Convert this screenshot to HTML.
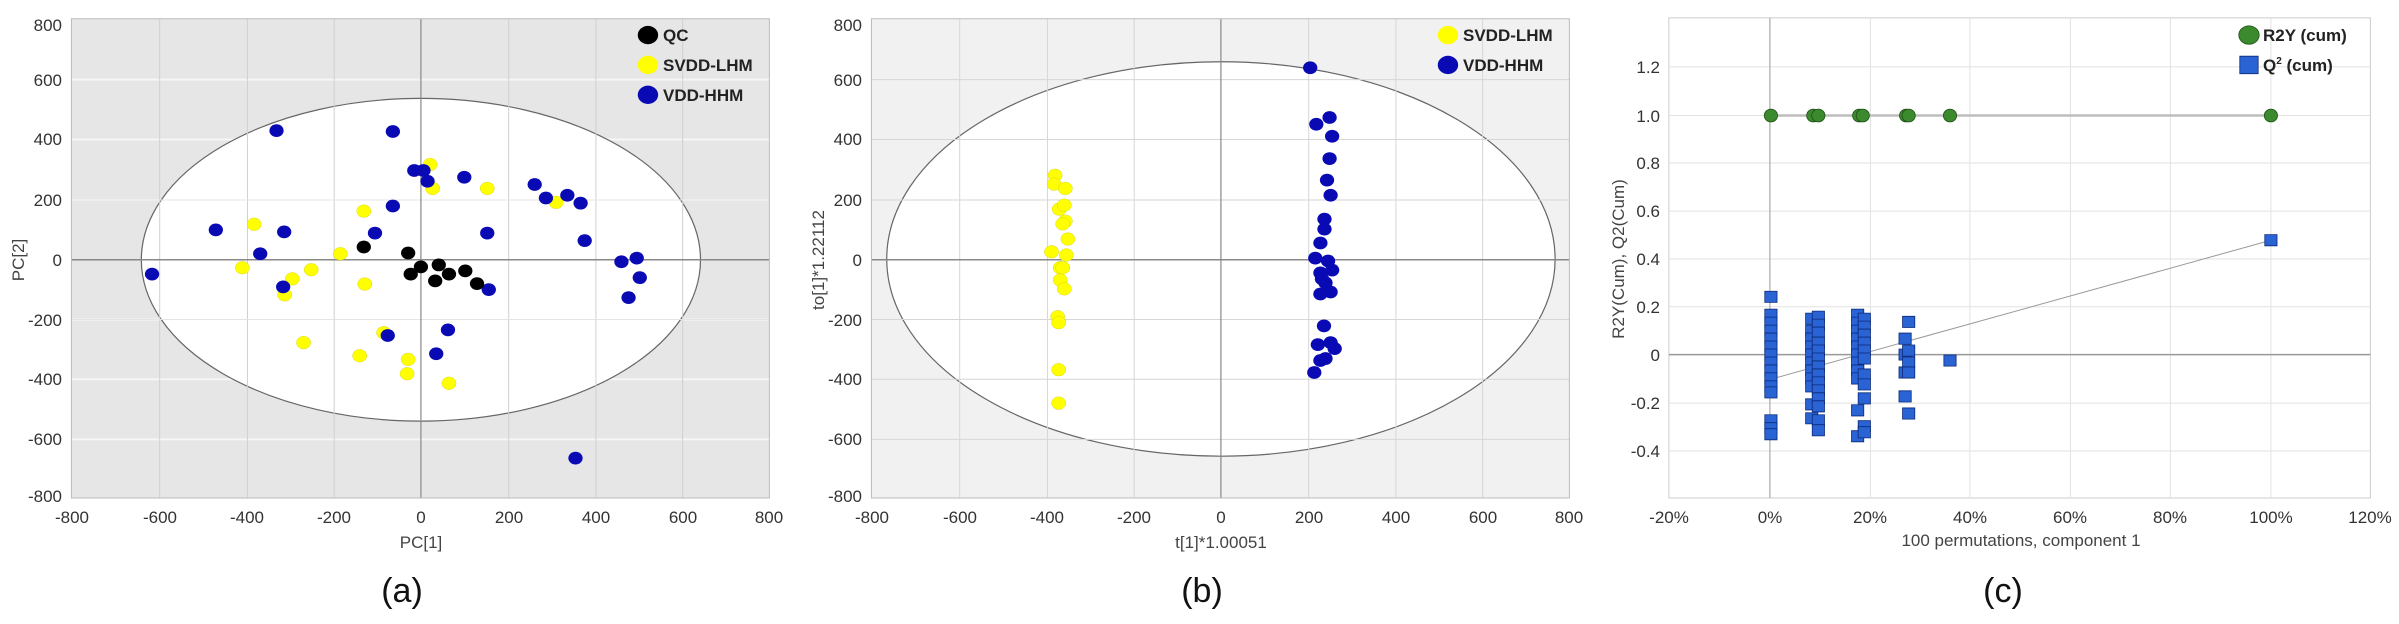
<!DOCTYPE html>
<html><head><meta charset="utf-8"><style>
html,body{margin:0;padding:0;background:#fff;}
svg{display:block;font-family:"Liberation Sans",sans-serif;}
.t{font-size:17px;fill:#333;}
.lg{font-size:17px;font-weight:bold;fill:#222;}
.cap{font-size:34px;fill:#111;}
.ax{font-size:17px;fill:#444;}
</style></head><body>
<svg width="2399" height="624" viewBox="0 0 2399 624" xmlns="http://www.w3.org/2000/svg">
<!-- ================= PANEL A ================= -->
<g transform="translate(0,0) scale(0.5102,0.3984)">
  <rect x="140" y="47" width="1368" height="1203" fill="#e6e6e6"/>
  <g stroke="#f6f6f6" stroke-width="2" vector-effect="non-scaling-stroke">
    <line x1="140" y1="200" x2="1508" y2="200" vector-effect="non-scaling-stroke"/>
    <line x1="140" y1="350" x2="1508" y2="350" vector-effect="non-scaling-stroke"/>
    <line x1="140" y1="502" x2="1508" y2="502" vector-effect="non-scaling-stroke"/>
    <line x1="140" y1="802" x2="1508" y2="802" vector-effect="non-scaling-stroke"/>
    <line x1="140" y1="952" x2="1508" y2="952" vector-effect="non-scaling-stroke"/>
    <line x1="140" y1="1103" x2="1508" y2="1103" vector-effect="non-scaling-stroke"/>
  </g>
  <ellipse cx="825" cy="652" rx="548" ry="405" fill="#fff" stroke="#666" stroke-width="1.2" vector-effect="non-scaling-stroke"/>
  <g stroke="#d0d0d0" stroke-width="1" vector-effect="non-scaling-stroke">
    <line x1="313" y1="47" x2="313" y2="1250" vector-effect="non-scaling-stroke"/>
    <line x1="485" y1="47" x2="485" y2="1250" vector-effect="non-scaling-stroke"/>
    <line x1="655" y1="47" x2="655" y2="1250" vector-effect="non-scaling-stroke"/>
    <line x1="997" y1="47" x2="997" y2="1250" vector-effect="non-scaling-stroke"/>
    <line x1="1168" y1="47" x2="1168" y2="1250" vector-effect="non-scaling-stroke"/>
    <line x1="1338" y1="47" x2="1338" y2="1250" vector-effect="non-scaling-stroke"/>
    <line x1="140" y1="502" x2="1508" y2="502" stroke="#e4e4e4" vector-effect="non-scaling-stroke"/>
    <line x1="140" y1="802" x2="1508" y2="802" stroke="#e4e4e4" vector-effect="non-scaling-stroke"/>
  </g>
  <line x1="825" y1="47" x2="825" y2="1250" stroke="#888" stroke-width="1.2" vector-effect="non-scaling-stroke"/>
  <line x1="140" y1="652" x2="1508" y2="652" stroke="#888" stroke-width="1.5" vector-effect="non-scaling-stroke"/>
  <rect x="140" y="47" width="1368" height="1203" fill="none" stroke="#bbb" stroke-width="1" vector-effect="non-scaling-stroke"/>
  <g fill="#ffff00" stroke="#b8b800" stroke-width="0.6" vector-effect="non-scaling-stroke">
    <ellipse cx="843" cy="413" rx="14" ry="16"/><ellipse cx="848" cy="473" rx="14" ry="16"/><ellipse cx="955" cy="473" rx="14" ry="16"/><ellipse cx="1090" cy="508" rx="14" ry="16"/><ellipse cx="713" cy="530" rx="14" ry="16"/><ellipse cx="498" cy="563" rx="14" ry="16"/><ellipse cx="667" cy="637" rx="14" ry="16"/><ellipse cx="475" cy="672" rx="14" ry="16"/><ellipse cx="573" cy="700" rx="14" ry="16"/><ellipse cx="610" cy="677" rx="14" ry="16"/><ellipse cx="715" cy="713" rx="14" ry="16"/><ellipse cx="558" cy="740" rx="14" ry="16"/><ellipse cx="752" cy="835" rx="14" ry="16"/><ellipse cx="595" cy="860" rx="14" ry="16"/><ellipse cx="705" cy="893" rx="14" ry="16"/><ellipse cx="800" cy="902" rx="14" ry="16"/><ellipse cx="798" cy="938" rx="14" ry="16"/><ellipse cx="880" cy="962" rx="14" ry="16"/>
  </g>
  <g fill="#0a0ab4">
    <ellipse cx="542" cy="328" rx="14" ry="16"/><ellipse cx="770" cy="330" rx="14" ry="16"/><ellipse cx="812" cy="428" rx="14" ry="16"/><ellipse cx="830" cy="428" rx="14" ry="16"/><ellipse cx="838" cy="455" rx="14" ry="16"/><ellipse cx="910" cy="445" rx="14" ry="16"/><ellipse cx="770" cy="517" rx="14" ry="16"/><ellipse cx="735" cy="585" rx="14" ry="16"/><ellipse cx="423" cy="577" rx="14" ry="16"/><ellipse cx="557" cy="582" rx="14" ry="16"/><ellipse cx="510" cy="637" rx="14" ry="16"/><ellipse cx="298" cy="688" rx="14" ry="16"/><ellipse cx="555" cy="720" rx="14" ry="16"/><ellipse cx="955" cy="585" rx="14" ry="16"/><ellipse cx="958" cy="727" rx="14" ry="16"/><ellipse cx="1048" cy="463" rx="14" ry="16"/><ellipse cx="1070" cy="497" rx="14" ry="16"/><ellipse cx="1112" cy="490" rx="14" ry="16"/><ellipse cx="1138" cy="510" rx="14" ry="16"/><ellipse cx="1146" cy="604" rx="14" ry="16"/><ellipse cx="1218" cy="657" rx="14" ry="16"/><ellipse cx="1248" cy="648" rx="14" ry="16"/><ellipse cx="1254" cy="697" rx="14" ry="16"/><ellipse cx="1232" cy="747" rx="14" ry="16"/><ellipse cx="760" cy="842" rx="14" ry="16"/><ellipse cx="878" cy="828" rx="14" ry="16"/><ellipse cx="855" cy="888" rx="14" ry="16"/><ellipse cx="1128" cy="1150" rx="14" ry="16"/>
  </g>
  <g fill="#000">
    <ellipse cx="713" cy="620" rx="14" ry="16"/><ellipse cx="800" cy="635" rx="14" ry="16"/><ellipse cx="805" cy="688" rx="14" ry="16"/><ellipse cx="825" cy="670" rx="14" ry="16"/><ellipse cx="853" cy="705" rx="14" ry="16"/><ellipse cx="860" cy="665" rx="14" ry="16"/><ellipse cx="880" cy="688" rx="14" ry="16"/><ellipse cx="912" cy="680" rx="14" ry="16"/><ellipse cx="935" cy="712" rx="14" ry="16"/>
  </g>
  <ellipse cx="1270" cy="88" rx="20" ry="23" fill="#000"/>
  <ellipse cx="1270" cy="163" rx="20" ry="23" fill="#ffff00"/>
  <ellipse cx="1270" cy="238" rx="20" ry="23" fill="#0a0ab4"/>
</g>
<g class="t" text-anchor="end">
  <text x="62" y="31">800</text><text x="62" y="86">600</text><text x="62" y="145">400</text><text x="62" y="206">200</text><text x="62" y="266">0</text><text x="62" y="326">-200</text><text x="62" y="385">-400</text><text x="62" y="445">-600</text><text x="62" y="502">-800</text>
</g>
<g class="t" text-anchor="middle">
  <text x="72" y="523">-800</text><text x="160" y="523">-600</text><text x="247" y="523">-400</text><text x="334" y="523">-200</text><text x="421" y="523">0</text><text x="509" y="523">200</text><text x="596" y="523">400</text><text x="683" y="523">600</text><text x="769" y="523">800</text>
</g>
<text class="ax" x="421" y="548" text-anchor="middle">PC[1]</text>
<text class="ax" transform="translate(24,260) rotate(-90)" text-anchor="middle">PC[2]</text>
<text class="lg" x="663" y="41">QC</text>
<text class="lg" x="663" y="71">SVDD-LHM</text>
<text class="lg" x="663" y="101">VDD-HHM</text>
<text class="cap" x="402" y="602" text-anchor="middle">(a)</text>

<!-- ================= PANEL B ================= -->
<g transform="translate(800,0) scale(0.5102,0.3984)">
  <rect x="140" y="47" width="1368" height="1203" fill="#f1f1f1"/>
  <ellipse cx="825" cy="650" rx="655" ry="495" fill="#fff" stroke="#666" stroke-width="1.2" vector-effect="non-scaling-stroke"/>
  <g stroke="#d6d6d6" stroke-width="1">
    <line x1="313" y1="47" x2="313" y2="1250" vector-effect="non-scaling-stroke"/>
    <line x1="485" y1="47" x2="485" y2="1250" vector-effect="non-scaling-stroke"/>
    <line x1="655" y1="47" x2="655" y2="1250" vector-effect="non-scaling-stroke"/>
    <line x1="997" y1="47" x2="997" y2="1250" vector-effect="non-scaling-stroke"/>
    <line x1="1168" y1="47" x2="1168" y2="1250" vector-effect="non-scaling-stroke"/>
    <line x1="1338" y1="47" x2="1338" y2="1250" vector-effect="non-scaling-stroke"/>
    <line x1="140" y1="200" x2="1508" y2="200" vector-effect="non-scaling-stroke"/>
    <line x1="140" y1="350" x2="1508" y2="350" vector-effect="non-scaling-stroke"/>
    <line x1="140" y1="502" x2="1508" y2="502" vector-effect="non-scaling-stroke"/>
    <line x1="140" y1="802" x2="1508" y2="802" vector-effect="non-scaling-stroke"/>
    <line x1="140" y1="952" x2="1508" y2="952" vector-effect="non-scaling-stroke"/>
    <line x1="140" y1="1103" x2="1508" y2="1103" vector-effect="non-scaling-stroke"/>
  </g>
  <line x1="825" y1="47" x2="825" y2="1250" stroke="#888" stroke-width="1.2" vector-effect="non-scaling-stroke"/>
  <line x1="140" y1="652" x2="1508" y2="652" stroke="#888" stroke-width="1.5" vector-effect="non-scaling-stroke"/>
  <rect x="140" y="47" width="1368" height="1203" fill="none" stroke="#bbb" stroke-width="1" vector-effect="non-scaling-stroke"/>
  <g fill="#ffff00" stroke="#b8b800" stroke-width="0.6" vector-effect="non-scaling-stroke">
    <ellipse cx="500" cy="440" rx="14" ry="16"/><ellipse cx="498" cy="462" rx="14" ry="16"/><ellipse cx="520" cy="473" rx="14" ry="16"/><ellipse cx="508" cy="525" rx="14" ry="16"/><ellipse cx="518" cy="515" rx="14" ry="16"/><ellipse cx="520" cy="555" rx="14" ry="16"/><ellipse cx="515" cy="562" rx="14" ry="16"/><ellipse cx="525" cy="600" rx="14" ry="16"/><ellipse cx="493" cy="632" rx="14" ry="16"/><ellipse cx="522" cy="640" rx="14" ry="16"/><ellipse cx="510" cy="672" rx="14" ry="16"/><ellipse cx="515" cy="672" rx="14" ry="16"/><ellipse cx="510" cy="703" rx="14" ry="16"/><ellipse cx="518" cy="725" rx="14" ry="16"/><ellipse cx="505" cy="795" rx="14" ry="16"/><ellipse cx="507" cy="810" rx="14" ry="16"/><ellipse cx="507" cy="928" rx="14" ry="16"/><ellipse cx="507" cy="1012" rx="14" ry="16"/>
  </g>
  <g fill="#0a0ab4">
    <ellipse cx="1000" cy="170" rx="14" ry="16"/><ellipse cx="1012" cy="312" rx="14" ry="16"/><ellipse cx="1038" cy="295" rx="14" ry="16"/><ellipse cx="1043" cy="342" rx="14" ry="16"/><ellipse cx="1038" cy="398" rx="14" ry="16"/><ellipse cx="1033" cy="452" rx="14" ry="16"/><ellipse cx="1040" cy="490" rx="14" ry="16"/><ellipse cx="1028" cy="550" rx="14" ry="16"/><ellipse cx="1028" cy="575" rx="14" ry="16"/><ellipse cx="1020" cy="610" rx="14" ry="16"/><ellipse cx="1010" cy="648" rx="14" ry="16"/><ellipse cx="1035" cy="655" rx="14" ry="16"/><ellipse cx="1020" cy="685" rx="14" ry="16"/><ellipse cx="1043" cy="678" rx="14" ry="16"/><ellipse cx="1030" cy="710" rx="14" ry="16"/><ellipse cx="1020" cy="738" rx="14" ry="16"/><ellipse cx="1040" cy="733" rx="14" ry="16"/><ellipse cx="1027" cy="818" rx="14" ry="16"/><ellipse cx="1015" cy="865" rx="14" ry="16"/><ellipse cx="1040" cy="860" rx="14" ry="16"/><ellipse cx="1048" cy="875" rx="14" ry="16"/><ellipse cx="1020" cy="905" rx="14" ry="16"/><ellipse cx="1030" cy="900" rx="14" ry="16"/><ellipse cx="1008" cy="935" rx="14" ry="16"/><ellipse cx="1023" cy="700" rx="14" ry="16"/>
  </g>
  <ellipse cx="1270" cy="88" rx="20" ry="23" fill="#ffff00"/>
  <ellipse cx="1270" cy="163" rx="20" ry="23" fill="#0a0ab4"/>
</g>
<g class="t" text-anchor="end">
  <text x="862" y="31">800</text><text x="862" y="86">600</text><text x="862" y="145">400</text><text x="862" y="206">200</text><text x="862" y="266">0</text><text x="862" y="326">-200</text><text x="862" y="385">-400</text><text x="862" y="445">-600</text><text x="862" y="502">-800</text>
</g>
<g class="t" text-anchor="middle">
  <text x="872" y="523">-800</text><text x="960" y="523">-600</text><text x="1047" y="523">-400</text><text x="1134" y="523">-200</text><text x="1221" y="523">0</text><text x="1309" y="523">200</text><text x="1396" y="523">400</text><text x="1483" y="523">600</text><text x="1569" y="523">800</text>
</g>
<text class="ax" x="1221" y="548" text-anchor="middle">t[1]*1.00051</text>
<text class="ax" transform="translate(824,260) rotate(-90)" text-anchor="middle">to[1]*1.22112</text>
<text class="lg" x="1463" y="41">SVDD-LHM</text>
<text class="lg" x="1463" y="71">VDD-HHM</text>
<text class="cap" x="1202" y="602" text-anchor="middle">(b)</text>

<!-- ================= PANEL C ================= -->
<g transform="translate(1600,0) scale(0.5102,0.3984)">
  <rect x="135" y="45" width="1375" height="1205" fill="#fff" stroke="#ccc" stroke-width="1" vector-effect="non-scaling-stroke"/>
  <g stroke="#e2e2e2" stroke-width="1">
    <line x1="530" y1="45" x2="530" y2="1250" vector-effect="non-scaling-stroke"/>
    <line x1="725" y1="45" x2="725" y2="1250" vector-effect="non-scaling-stroke"/>
    <line x1="922" y1="45" x2="922" y2="1250" vector-effect="non-scaling-stroke"/>
    <line x1="1118" y1="45" x2="1118" y2="1250" vector-effect="non-scaling-stroke"/>
    <line x1="1315" y1="45" x2="1315" y2="1250" vector-effect="non-scaling-stroke"/>
    <line x1="135" y1="168" x2="1510" y2="168" vector-effect="non-scaling-stroke"/>
    <line x1="135" y1="290" x2="1510" y2="290" vector-effect="non-scaling-stroke"/>
    <line x1="135" y1="409" x2="1510" y2="409" vector-effect="non-scaling-stroke"/>
    <line x1="135" y1="530" x2="1510" y2="530" vector-effect="non-scaling-stroke"/>
    <line x1="135" y1="650" x2="1510" y2="650" vector-effect="non-scaling-stroke"/>
    <line x1="135" y1="770" x2="1510" y2="770" vector-effect="non-scaling-stroke"/>
    <line x1="135" y1="1012" x2="1510" y2="1012" vector-effect="non-scaling-stroke"/>
    <line x1="135" y1="1132" x2="1510" y2="1132" vector-effect="non-scaling-stroke"/>
  </g>
  <line x1="333" y1="45" x2="333" y2="1250" stroke="#aaa" stroke-width="1.2" vector-effect="non-scaling-stroke"/>
  <line x1="135" y1="890" x2="1510" y2="890" stroke="#999" stroke-width="1.5" vector-effect="non-scaling-stroke"/>
  <line x1="335" y1="290" x2="1315" y2="290" stroke="#bdbdbd" stroke-width="2.5" vector-effect="non-scaling-stroke"/>
  <line x1="340" y1="950" x2="1315" y2="603" stroke="#999" stroke-width="1" vector-effect="non-scaling-stroke"/>
  <g fill="#2a63d4" stroke="#0b2a7a" stroke-width="0.8">
    <rect x="323" y="731" width="24" height="28" vector-effect="non-scaling-stroke"/><rect x="323" y="776" width="24" height="28" vector-effect="non-scaling-stroke"/><rect x="323" y="796" width="24" height="28" vector-effect="non-scaling-stroke"/><rect x="323" y="816" width="24" height="28" vector-effect="non-scaling-stroke"/><rect x="323" y="836" width="24" height="28" vector-effect="non-scaling-stroke"/><rect x="323" y="856" width="24" height="28" vector-effect="non-scaling-stroke"/><rect x="323" y="876" width="24" height="28" vector-effect="non-scaling-stroke"/><rect x="323" y="896" width="24" height="28" vector-effect="non-scaling-stroke"/><rect x="323" y="916" width="24" height="28" vector-effect="non-scaling-stroke"/><rect x="323" y="936" width="24" height="28" vector-effect="non-scaling-stroke"/><rect x="323" y="956" width="24" height="28" vector-effect="non-scaling-stroke"/><rect x="323" y="971" width="24" height="28" vector-effect="non-scaling-stroke"/><rect x="323" y="1041" width="24" height="28" vector-effect="non-scaling-stroke"/><rect x="323" y="1061" width="24" height="28" vector-effect="non-scaling-stroke"/><rect x="323" y="1076" width="24" height="28" vector-effect="non-scaling-stroke"/>
    <rect x="403" y="786" width="24" height="28" vector-effect="non-scaling-stroke"/><rect x="403" y="816" width="24" height="28" vector-effect="non-scaling-stroke"/><rect x="403" y="836" width="24" height="28" vector-effect="non-scaling-stroke"/><rect x="403" y="856" width="24" height="28" vector-effect="non-scaling-stroke"/><rect x="403" y="876" width="24" height="28" vector-effect="non-scaling-stroke"/><rect x="403" y="896" width="24" height="28" vector-effect="non-scaling-stroke"/><rect x="403" y="916" width="24" height="28" vector-effect="non-scaling-stroke"/><rect x="403" y="936" width="24" height="28" vector-effect="non-scaling-stroke"/><rect x="403" y="956" width="24" height="28" vector-effect="non-scaling-stroke"/><rect x="403" y="1001" width="24" height="28" vector-effect="non-scaling-stroke"/><rect x="403" y="1036" width="24" height="28" vector-effect="non-scaling-stroke"/>
    <rect x="416" y="781" width="24" height="28" vector-effect="non-scaling-stroke"/><rect x="416" y="801" width="24" height="28" vector-effect="non-scaling-stroke"/><rect x="416" y="821" width="24" height="28" vector-effect="non-scaling-stroke"/><rect x="416" y="846" width="24" height="28" vector-effect="non-scaling-stroke"/><rect x="416" y="866" width="24" height="28" vector-effect="non-scaling-stroke"/><rect x="416" y="886" width="24" height="28" vector-effect="non-scaling-stroke"/><rect x="416" y="906" width="24" height="28" vector-effect="non-scaling-stroke"/><rect x="416" y="926" width="24" height="28" vector-effect="non-scaling-stroke"/><rect x="416" y="946" width="24" height="28" vector-effect="non-scaling-stroke"/><rect x="416" y="966" width="24" height="28" vector-effect="non-scaling-stroke"/><rect x="416" y="986" width="24" height="28" vector-effect="non-scaling-stroke"/><rect x="416" y="1006" width="24" height="28" vector-effect="non-scaling-stroke"/><rect x="416" y="1041" width="24" height="28" vector-effect="non-scaling-stroke"/><rect x="416" y="1066" width="24" height="28" vector-effect="non-scaling-stroke"/>
    <rect x="493" y="776" width="24" height="28" vector-effect="non-scaling-stroke"/><rect x="493" y="796" width="24" height="28" vector-effect="non-scaling-stroke"/><rect x="493" y="816" width="24" height="28" vector-effect="non-scaling-stroke"/><rect x="493" y="836" width="24" height="28" vector-effect="non-scaling-stroke"/><rect x="493" y="856" width="24" height="28" vector-effect="non-scaling-stroke"/><rect x="493" y="876" width="24" height="28" vector-effect="non-scaling-stroke"/><rect x="493" y="896" width="24" height="28" vector-effect="non-scaling-stroke"/><rect x="493" y="916" width="24" height="28" vector-effect="non-scaling-stroke"/><rect x="493" y="936" width="24" height="28" vector-effect="non-scaling-stroke"/><rect x="493" y="1016" width="24" height="28" vector-effect="non-scaling-stroke"/><rect x="493" y="1081" width="24" height="28" vector-effect="non-scaling-stroke"/>
    <rect x="506" y="786" width="24" height="28" vector-effect="non-scaling-stroke"/><rect x="506" y="806" width="24" height="28" vector-effect="non-scaling-stroke"/><rect x="506" y="826" width="24" height="28" vector-effect="non-scaling-stroke"/><rect x="506" y="846" width="24" height="28" vector-effect="non-scaling-stroke"/><rect x="506" y="866" width="24" height="28" vector-effect="non-scaling-stroke"/><rect x="506" y="886" width="24" height="28" vector-effect="non-scaling-stroke"/><rect x="506" y="926" width="24" height="28" vector-effect="non-scaling-stroke"/><rect x="506" y="951" width="24" height="28" vector-effect="non-scaling-stroke"/><rect x="506" y="986" width="24" height="28" vector-effect="non-scaling-stroke"/><rect x="506" y="1056" width="24" height="28" vector-effect="non-scaling-stroke"/><rect x="506" y="1071" width="24" height="28" vector-effect="non-scaling-stroke"/>
    <rect x="586" y="836" width="24" height="28" vector-effect="non-scaling-stroke"/><rect x="586" y="876" width="24" height="28" vector-effect="non-scaling-stroke"/><rect x="586" y="921" width="24" height="28" vector-effect="non-scaling-stroke"/><rect x="586" y="981" width="24" height="28" vector-effect="non-scaling-stroke"/>
    <rect x="593" y="794" width="24" height="28" vector-effect="non-scaling-stroke"/><rect x="593" y="866" width="24" height="28" vector-effect="non-scaling-stroke"/><rect x="593" y="896" width="24" height="28" vector-effect="non-scaling-stroke"/><rect x="593" y="921" width="24" height="28" vector-effect="non-scaling-stroke"/><rect x="593" y="1024" width="24" height="28" vector-effect="non-scaling-stroke"/>
    <rect x="674" y="891" width="24" height="28" vector-effect="non-scaling-stroke"/>
    <rect x="1303" y="589" width="24" height="28" vector-effect="non-scaling-stroke"/>
  </g>
  <g fill="#3c8a2e" stroke="#1e4f16" stroke-width="0.8">
    <ellipse cx="335" cy="290" rx="13" ry="16" vector-effect="non-scaling-stroke"/><ellipse cx="418" cy="290" rx="13" ry="16" vector-effect="non-scaling-stroke"/><ellipse cx="428" cy="290" rx="13" ry="16" vector-effect="non-scaling-stroke"/><ellipse cx="508" cy="290" rx="13" ry="16" vector-effect="non-scaling-stroke"/><ellipse cx="515" cy="290" rx="13" ry="16" vector-effect="non-scaling-stroke"/><ellipse cx="600" cy="290" rx="13" ry="16" vector-effect="non-scaling-stroke"/><ellipse cx="605" cy="290" rx="13" ry="16" vector-effect="non-scaling-stroke"/><ellipse cx="686" cy="290" rx="13" ry="16" vector-effect="non-scaling-stroke"/><ellipse cx="1315" cy="290" rx="13" ry="16" vector-effect="non-scaling-stroke"/>
    <ellipse cx="1272" cy="88" rx="20" ry="23" vector-effect="non-scaling-stroke"/>
  </g>
  <rect x="1254" y="141" width="36" height="44" fill="#2a63d4" stroke="#0b2a7a" stroke-width="0.8" vector-effect="non-scaling-stroke"/>
</g>
<g class="t" text-anchor="end">
  <text x="1660" y="73">1.2</text><text x="1660" y="122">1.0</text><text x="1660" y="169">0.8</text><text x="1660" y="217">0.6</text><text x="1660" y="265">0.4</text><text x="1660" y="313">0.2</text><text x="1660" y="361">0</text><text x="1660" y="409">-0.2</text><text x="1660" y="457">-0.4</text>
</g>
<g class="t" text-anchor="middle">
  <text x="1669" y="523">-20%</text><text x="1770" y="523">0%</text><text x="1870" y="523">20%</text><text x="1970" y="523">40%</text><text x="2070" y="523">60%</text><text x="2170" y="523">80%</text><text x="2271" y="523">100%</text><text x="2370" y="523">120%</text>
</g>
<text class="ax" x="2021" y="546" text-anchor="middle">100 permutations, component 1</text>
<text class="ax" transform="translate(2024,259) rotate(-90)" text-anchor="middle" style="display:none"></text>
<text class="ax" transform="translate(1624,259) rotate(-90)" text-anchor="middle">R2Y(Cum), Q2(Cum)</text>
<text class="lg" x="2263" y="41">R2Y (cum)</text>
<text class="lg" x="2263" y="71">Q<tspan font-size="10" dy="-7">2</tspan><tspan dy="7"> (cum)</tspan></text>
<text class="cap" x="2003" y="602" text-anchor="middle">(c)</text>
</svg>
</body></html>
